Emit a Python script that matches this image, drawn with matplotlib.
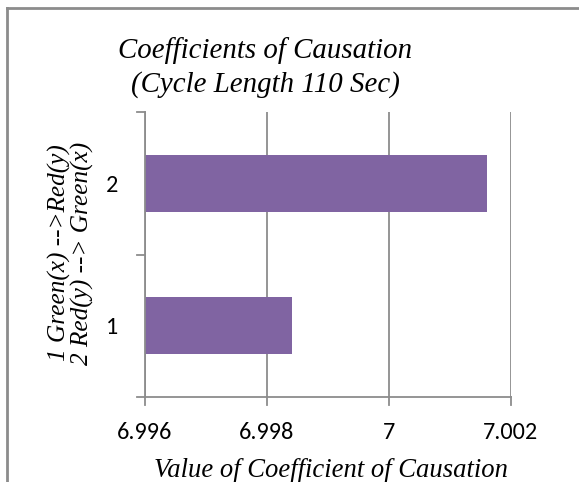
import matplotlib
matplotlib.use('Agg')
import matplotlib.pyplot as plt
from matplotlib.lines import Line2D
from matplotlib import font_manager

# data
categories = ['1', '2']
values = [6.998405, 7.0016]
xticks = [6.996, 6.998, 7.0, 7.002]
xtick_labels = ['6.996', '6.998', '7', '7.002']

bar_color = '#8064A2'
grid_color = '#8C8C8C'
sans = 'Carlito'

# pick the Liberation Serif italic file directly
serif_file = None
for f in font_manager.fontManager.ttflist:
    if f.name == 'Liberation Serif' and f.style == 'italic' and f.weight == 400:
        serif_file = f.fname
        break


def serif_font(size):
    if serif_file:
        return font_manager.FontProperties(fname=serif_file, size=size)
    return font_manager.FontProperties(family='serif', style='italic', size=size)


fig = plt.figure(figsize=(5.79, 4.82), dpi=100, facecolor='white')
ax = fig.add_axes([145/579, 1-397/482, (511-145)/579, (397-112)/482])

ypos = list(range(len(categories)))
ax.barh(ypos, [v - xticks[0] for v in values], left=xticks[0], height=0.4,
        color=bar_color, zorder=3)

ax.set_xlim(xticks[0], xticks[-1])
ax.set_ylim(-0.5, len(categories) - 0.5)
ax.set_xticks(xticks)
ax.set_xticklabels(xtick_labels, fontfamily=sans, fontsize=17.5)
ax.set_yticks(ypos)
ax.set_yticklabels(categories, fontfamily=sans, fontsize=17.5)
ax.tick_params(axis='y', length=0, pad=19)
ax.tick_params(axis='x', length=0, pad=18)

# category boundary ticks on y axis, value ticks under x axis
for yb in [-0.5, 0.5, 1.5]:
    ax.plot([-0.022, 0], [yb, yb], transform=ax.get_yaxis_transform(),
            color=grid_color, lw=1.3, clip_on=False, zorder=4)
for xt in xticks:
    ax.plot([xt, xt], [-0.028, 0], transform=ax.get_xaxis_transform(),
            color=grid_color, lw=1.3, clip_on=False, zorder=4)

ax.grid(axis='x', color=grid_color, lw=1.3, zorder=0)
for side in ['top', 'right']:
    ax.spines[side].set_visible(False)
for side in ['left', 'bottom']:
    ax.spines[side].set_color(grid_color)
    ax.spines[side].set_linewidth(1.3)
    ax.spines[side].set_zorder(4)

# title and axis labels
fig.text(265/579, 1-58/482, 'Coefficients of Causation', ha='center', va='baseline',
         fontproperties=serif_font(20.8))
fig.text(265/579, 1-92/482, '(Cycle Length 110 Sec)', ha='center', va='baseline',
         fontproperties=serif_font(20.8))
fig.text(331/579, 1-477/482, 'Value of Coefficient of Causation', ha='center', va='baseline',
         fontproperties=serif_font(19.2))
fig.text(71/579, 1-253/482, '1 Green(x) -->Red(y)\n2 Red(y) --> Green(x)',
         ha='center', va='center', rotation=90, linespacing=1.0,
         fontproperties=serif_font(18.2))

# chart frame (top and left edge visible)
fig.add_artist(Line2D([7/579, 7/579], [0, 1-8/482], color='#8C8C8C', lw=2))
fig.add_artist(Line2D([7/579, 1], [1-8/482, 1-8/482], color='#8C8C8C', lw=2))

fig.savefig('out.png', dpi=100, facecolor='white')
